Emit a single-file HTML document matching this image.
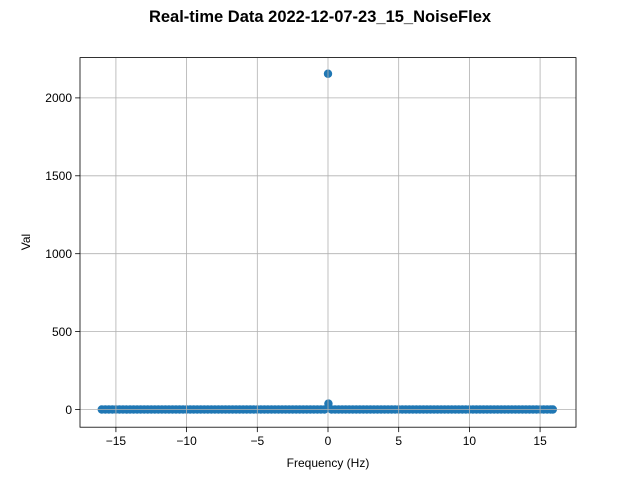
<!DOCTYPE html>
<html><head><meta charset="utf-8"><style>
body{margin:0;background:#fff}
svg text{font-family:"Liberation Sans",Arial,sans-serif;fill:#000}
</style></head><body>
<svg id="chart" width="640" height="480" xmlns="http://www.w3.org/2000/svg">
<rect width="640" height="480" fill="#fff"/>
<text x="320" y="22" text-anchor="middle" font-size="16.5" font-weight="bold">Real-time Data 2022-12-07-23_15_NoiseFlex</text>
<g id="points"></g>
<g id="grid"></g>
<g id="ticks"></g>
<rect x="80" y="57.6" width="496" height="369.6" fill="none" stroke="#000" stroke-width="0.8"/>
<text x="328" y="467" text-anchor="middle" font-size="12">Frequency (Hz)</text>
<text x="30" y="242" text-anchor="middle" font-size="12" transform="rotate(-90 30 242)">Val</text>
</svg>
<script>
const xTicks=[-15,-10,-5,0,5,10,15];
const xTickLabels=["\u221215","\u221210","\u22125","0","5","10","15"];
const yTicks=[0,500,1000,1500,2000];
const yTickLabels=["0","500","1000","1500","2000"];
const freqs=[-16,-15.75,-15.5,-15.25,-15,-14.75,-14.5,-14.25,-14,-13.75,-13.5,-13.25,-13,-12.75,-12.5,-12.25,-12,-11.75,-11.5,-11.25,-11,-10.75,-10.5,-10.25,-10,-9.75,-9.5,-9.25,-9,-8.75,-8.5,-8.25,-8,-7.75,-7.5,-7.25,-7,-6.75,-6.5,-6.25,-6,-5.75,-5.5,-5.25,-5,-4.75,-4.5,-4.25,-4,-3.75,-3.5,-3.25,-3,-2.75,-2.5,-2.25,-2,-1.75,-1.5,-1.25,-1,-0.75,-0.5,-0.25,0,0.03,0.25,0.5,0.75,1,1.25,1.5,1.75,2,2.25,2.5,2.75,3,3.25,3.5,3.75,4,4.25,4.5,4.75,5,5.25,5.5,5.75,6,6.25,6.5,6.75,7,7.25,7.5,7.75,8,8.25,8.5,8.75,9,9.25,9.5,9.75,10,10.25,10.5,10.75,11,11.25,11.5,11.75,12,12.25,12.5,12.75,13,13.25,13.5,13.75,14,14.25,14.5,14.75,15,15.25,15.5,15.75,15.9];
const vals=[0,0,0,0,0,0,0,0,0,0,0,0,0,0,0,0,0,0,0,0,0,0,0,0,0,0,0,0,0,0,0,0,0,0,0,0,0,0,0,0,0,0,0,0,0,0,0,0,0,0,0,0,0,0,0,0,0,0,0,0,0,0,0,0,2155,38,0,0,0,0,0,0,0,0,0,0,0,0,0,0,0,0,0,0,0,0,0,0,0,0,0,0,0,0,0,0,0,0,0,0,0,0,0,0,0,0,0,0,0,0,0,0,0,0,0,0,0,0,0,0,0,0,0,0,0,0,0,0,0,0];
const L=80,R=576,T=57.6,B=427.2;
const xMin=-17.54,xMax=17.54,yMin=-113.6,yMax=2258.6;
const sx=v=>L+(v-xMin)/(xMax-xMin)*(R-L);
const sy=v=>B-(v-yMin)/(yMax-yMin)*(B-T);
const NS="http://www.w3.org/2000/svg";
function mk(tag,attrs,parent){const e=document.createElementNS(NS,tag);for(const k in attrs)e.setAttribute(k,attrs[k]);parent.appendChild(e);return e;}
const gp=document.getElementById('points'),gg=document.getElementById('grid'),gt=document.getElementById('ticks');
freqs.forEach((f,i)=>{
 const c=mk('circle',{cx:sx(f),cy:sy(vals[i]),r:4.2,fill:'#1f77b4'},gp);
 
 
});
xTicks.forEach((t,i)=>{
 const x=sx(t);
 const g=mk('line',{x1:x,x2:x,y1:T,y2:B,stroke:'#b0b0b0','stroke-width':0.8},gg);
 
 
 const tk=mk('line',{x1:x,x2:x,y1:B,y2:B+4.9,stroke:'#000','stroke-width':0.8},gt);
 
 
 const tx=mk('text',{x:x,y:B+18,'text-anchor':'middle','font-size':12},gt);
 tx.textContent=xTickLabels[i];
 
 
});
yTicks.forEach((t,i)=>{
 const y=sy(t);
 const g=mk('line',{x1:L,x2:R,y1:y,y2:y,stroke:'#b0b0b0','stroke-width':0.8},gg);
 
 
 const tk=mk('line',{x1:L-4.9,x2:L,y1:y,y2:y,stroke:'#000','stroke-width':0.8},gt);
 
 
 const tx=mk('text',{x:L-8,y:y+4.3,'text-anchor':'end','font-size':12},gt);
 tx.textContent=yTickLabels[i];
 
 
});
</script>
</body></html>
